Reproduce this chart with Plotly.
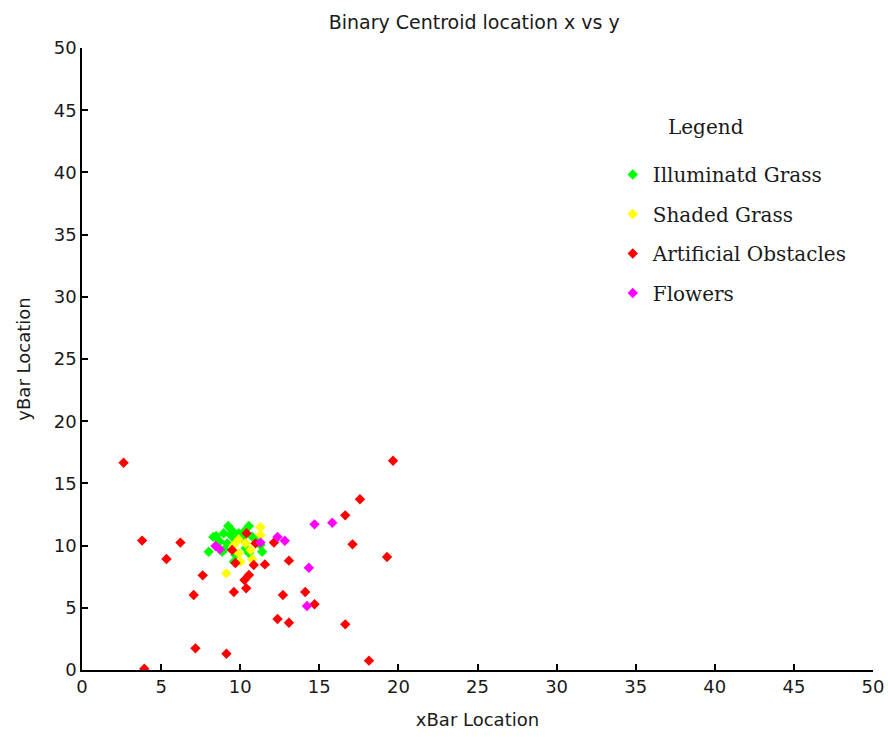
import plotly.graph_objects as go

green_x = [9.24, 10.55, 8.48, 8.96, 9.39, 9.91, 8.71, 9.17, 9.7, 10.76, 11.07, 8.01, 8.86, 11.39, 11.28, 9.7, 9.6, 10.34, 10.55, 10.1, 9.5, 10.3, 8.3, 9.0]
green_y = [11.58, 11.58, 10.77, 10.99, 10.85, 10.99, 10.32, 10.18, 10.45, 10.72, 10.32, 9.51, 9.51, 9.51, 10.05, 9.24, 8.71, 9.78, 9.4, 10.6, 11.2, 11.2, 10.7, 9.7]

yellow_x = [11.28, 11.28, 9.6, 10.34, 9.91, 10.65, 10.76, 10.02, 9.12, 9.9]
yellow_y = [11.47, 10.85, 10.05, 10.18, 9.38, 9.65, 8.9, 8.71, 7.77, 10.5]

red_x = [2.63, 19.66, 17.57, 16.64, 17.1, 19.28, 3.8, 6.22, 5.34, 7.63, 7.06, 9.6, 10.38, 10.27, 10.55,
         11.56, 10.86, 12.13, 13.08, 12.7, 14.11, 14.7, 12.36, 13.08, 16.64, 7.17, 9.13, 18.14, 3.94,
         10.4, 9.49, 10.97, 9.7]
red_y = [16.66, 16.82, 13.72, 12.43, 10.1, 9.08, 10.4, 10.24, 8.92, 7.61, 6.03, 6.27, 6.57, 7.23, 7.64,
         8.49, 8.44, 10.24, 8.79, 6.03, 6.27, 5.28, 4.1, 3.8, 3.67, 1.74, 1.31, 0.75, 0.1,
         10.99, 9.65, 10.18, 8.6]

magenta_x = [14.7, 15.82, 12.36, 12.82, 14.34, 14.22, 8.44, 8.71, 11.28]
magenta_y = [11.71, 11.84, 10.69, 10.39, 8.22, 5.14, 9.97, 9.7, 10.24]

series = [
    ("Illuminatd Grass", green_x, green_y, "#00FF00"),
    ("Shaded Grass", yellow_x, yellow_y, "#FFFF00"),
    ("Artificial Obstacles", red_x, red_y, "#FF0000"),
    ("Flowers", magenta_x, magenta_y, "#FF00FF"),
]

tick_vals = [0, 5, 10, 15, 20, 25, 30, 35, 40, 45, 50]

SANS = "DejaVu Sans, Verdana, sans-serif"
SERIF = "DejaVu Serif, Times New Roman, serif"
TXT = "#1a1a1a"

fig = go.Figure()
for name, xs, ys, col in series:
    fig.add_trace(go.Scatter(
        x=xs, y=ys, mode="markers", name=name, legendgroup=name,
        marker=dict(symbol="diamond", size=8, color=col, line=dict(width=0)),
    ))

axis_common = dict(
    range=[0, 50], tickvals=tick_vals, showgrid=False, zeroline=False,
    showline=True, linecolor="black", linewidth=1.5,
    ticks="inside", ticklen=6, tickwidth=1.5, tickcolor="black",
    tickfont=dict(family=SANS, size=18, color=TXT),
    mirror=False, automargin=False,
)

fig.update_layout(
    width=888, height=737,
    margin=dict(l=82, r=15, t=48, b=67),
    paper_bgcolor="white", plot_bgcolor="white",
    title=dict(text="Binary Centroid location x vs y", x=0.534, xanchor="center", y=0.97, yanchor="middle",
               font=dict(family=SANS, size=19, color=TXT)),
    xaxis=dict(axis_common, title=dict(text="xBar Location", standoff=17,
               font=dict(family=SANS, size=18, color=TXT))),
    yaxis=dict(axis_common, title=dict(text="yBar Location", standoff=18,
               font=dict(family=SANS, size=18, color=TXT))),
    legend=dict(
        x=0.671, y=0.828, xanchor="left", yanchor="top",
        font=dict(family=SERIF, size=20, color=TXT),
        bgcolor="rgba(0,0,0,0)", tracegroupgap=10.5, itemwidth=30,
    ),
    annotations=[dict(text="Legend", xref="paper", yref="paper", x=0.789, y=0.873,
                      xanchor="center", yanchor="middle", showarrow=False,
                      font=dict(family=SERIF, size=20, color=TXT))],
    showlegend=True,
)

fig.write_html("out.html")
